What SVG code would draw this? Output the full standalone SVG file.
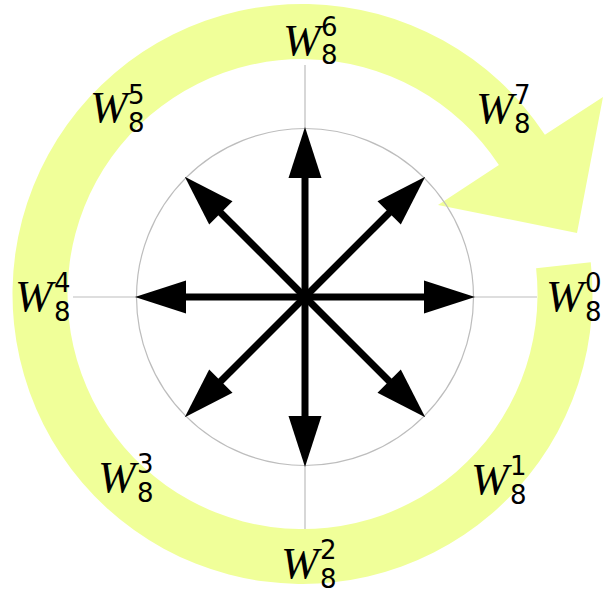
<svg xmlns="http://www.w3.org/2000/svg" width="603" height="593" viewBox="0 0 603 593">
<style>
.w{font-family:"Liberation Serif",serif;font-style:italic;font-size:45px;fill:#000}
.d{font-family:"DejaVu Sans",sans-serif;font-size:26px;fill:#000}
.g{stroke:#bdbdbd;stroke-width:1.2;fill:none}
</style>
<defs>
<g id="arr">
<line x1="0" y1="0" x2="122" y2="0" stroke="#000" stroke-width="7"/>
<polygon points="170,0 119,-16.5 119,16.5" fill="#000"/>
</g>
</defs>
<rect width="603" height="593" fill="#fff"/>
<g id="ring">
<path d="M 590.75 262.2 A 290 290 0 1 1 544.9 134.8 L 603 97 L 577 233 L 438 205 L 498.9 165 A 235 235 0 1 0 536.1 268.2 Z" fill="#f0ff99"/>
</g>
<g id="grid">
<line class="g" x1="73" y1="297" x2="537" y2="297"/>
<line class="g" x1="305" y1="65" x2="305" y2="529"/>
<circle class="g" cx="305" cy="297" r="168.5"/>
</g>
<g id="connectors" transform="translate(305 297)">
<use href="#arr"/>
<use href="#arr" transform="rotate(45)"/>
<use href="#arr" transform="rotate(90)"/>
<use href="#arr" transform="rotate(135)"/>
<use href="#arr" transform="rotate(180)"/>
<use href="#arr" transform="rotate(225)"/>
<use href="#arr" transform="rotate(270)"/>
<use href="#arr" transform="rotate(315)"/>
</g>
<g id="w0"><text class="w" x="546" y="311">W</text><text class="d" x="585" y="292">0</text><text class="d" x="585" y="321">8</text></g>
<g id="w1"><text class="w" x="471" y="494">W</text><text class="d" x="510" y="475">1</text><text class="d" x="510" y="504">8</text></g>
<g id="w2"><text class="w" x="281" y="578">W</text><text class="d" x="320" y="559">2</text><text class="d" x="320" y="588">8</text></g>
<g id="w3"><text class="w" x="98" y="492">W</text><text class="d" x="137" y="473">3</text><text class="d" x="137" y="502">8</text></g>
<g id="w4"><text class="w" x="15" y="311">W</text><text class="d" x="54" y="292">4</text><text class="d" x="54" y="321">8</text></g>
<g id="w5"><text class="w" x="90" y="122">W</text><text class="d" x="128" y="104">5</text><text class="d" x="128" y="132">8</text></g>
<g id="w6"><text class="w" x="283" y="55">W</text><text class="d" x="321" y="36">6</text><text class="d" x="321" y="64">8</text></g>
<g id="w7"><text class="w" x="476" y="123">W</text><text class="d" x="514" y="104">7</text><text class="d" x="514" y="133">8</text></g>
</svg>
